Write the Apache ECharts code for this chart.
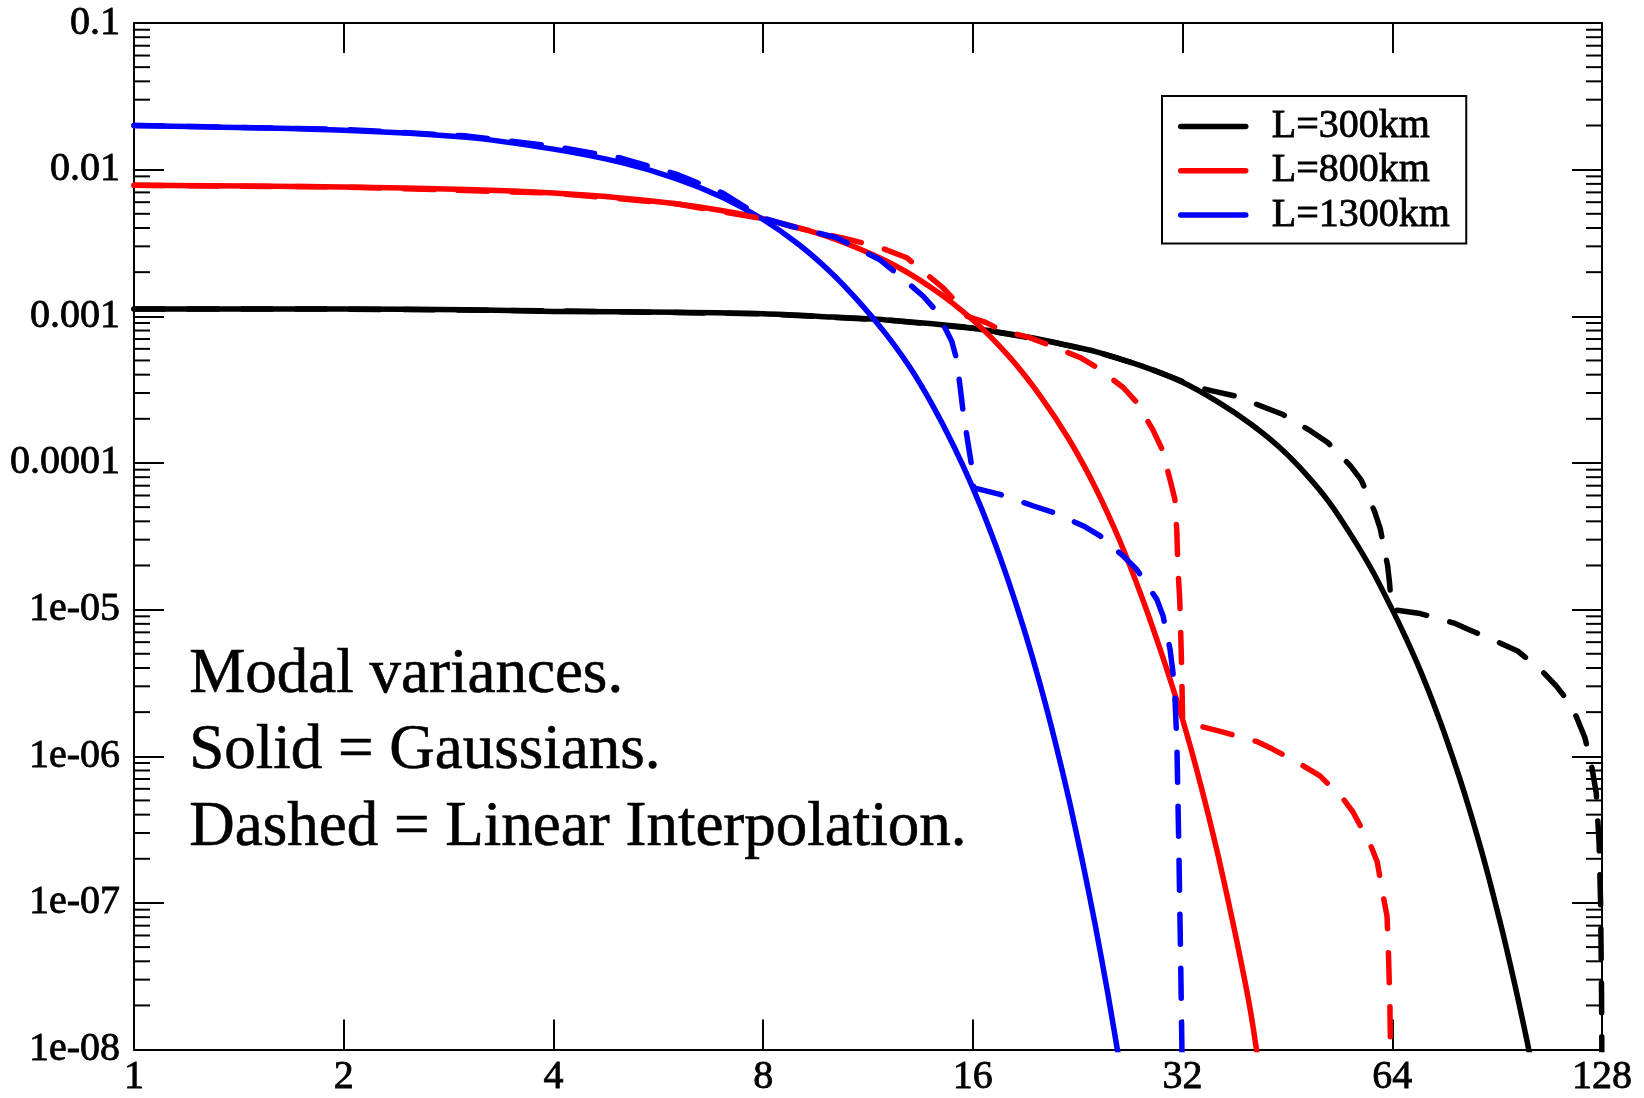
<!DOCTYPE html>
<html><head><meta charset="utf-8">
<script src="https://cdn.jsdelivr.net/npm/echarts@6/dist/echarts.min.js"></script>
<style>html,body{margin:0;padding:0;background:#fff}#c{width:1644px;height:1098px}</style>
</head><body><div id="c"></div>
<script>
// ---------- data ----------
const xTickLabels = ['1','2','4','8','16','32','64','128'];
const yTickLabels = ['1e-08','1e-07','1e-06','1e-05','0.0001','0.001','0.01','0.1'];
const legendNames = ['L=300km','L=800km','L=1300km'];
const annotationLines = ['Modal variances.','Solid = Gaussians.','Dashed = Linear Interpolation.'];

// L=300km, Gaussian (solid)
const blackSolidK = [1,2,3,4,6,8,10,12,14,16,18,20,24,28,32,36,40,44,48,52,56,60,64,66,68,70,72,74,76,78,80,82,84,86,88,90,92,94,96,98,100,102];
const blackSolidV = [1.12e-3,1.12e-3,1.11e-3,1.08e-3,1.065e-3,1.04e-3,9.9e-4,9.45e-4,8.9e-4,8.3e-4,7.6e-4,6.95e-4,5.75e-4,4.57e-4,3.55e-4,2.6e-4,1.86e-4,1.29e-4,8.5e-5,5.37e-5,3.16e-5,1.82e-5,1.0e-5,7.4e-6,5.45e-6,3.98e-6,2.86e-6,2.04e-6,1.445e-6,1.01e-6,7.05e-7,4.85e-7,3.31e-7,2.24e-7,1.5e-7,9.9e-8,6.55e-8,4.25e-8,2.75e-8,1.76e-8,1.12e-8,7.0e-9];
// L=300km, linear interpolation (dashed)
const blackDashK = [1,2,4,8,12,16,20,24,28,32,34,35.3,38,42,44.5,48.8,51.7,55.7,57.8,60.4,61.5,63.0,63.4,63.8,64.2,70.2,78.5,82.5,91.5,97,105.5,110,113.4,117.6,120.9,123.6,125.6,126.8,127.4,127.8,128];
const blackDashV = [1.12e-3,1.12e-3,1.09e-3,1.04e-3,9.45e-4,8.3e-4,6.95e-4,5.75e-4,4.6e-4,3.6e-4,3.24e-4,3.1e-4,2.87e-4,2.39e-4,2.15e-4,1.66e-4,1.38e-4,9.6e-5,7.6e-5,4.63e-5,3.57e-5,2.01e-5,1.55e-5,1.08e-5,1.0e-5,9.4e-6,8.1e-6,7.3e-6,5.9e-6,5.2e-6,3.72e-6,3.02e-6,2.51e-6,1.86e-6,1.35e-6,8.75e-7,5.6e-7,2.5e-7,1.0e-7,2.5e-8,6.3e-9];

// L=800km
const redSolidK = [1,2,3,4,5,6,7,8,10,12,14,16,18,20,22,24,26,28,30,32,34,36,38,40,41.5];
const redSolidV = [7.82e-3,7.62e-3,7.31e-3,6.92e-3,6.41e-3,5.85e-3,5.25e-3,4.63e-3,3.44e-3,2.39e-3,1.55e-3,9.44e-4,5.37e-4,2.86e-4,1.44e-4,6.76e-5,2.95e-5,1.2e-5,4.68e-6,1.78e-6,6.3e-7,2.09e-7,6.5e-8,1.9e-8,6e-9];
const redDashK = [1,2,4,6,8,8.83,10.66,11.77,12.86,13.3,14.5,15.2,15.7,16.7,17.5,19.3,20.85,22.8,24.1,26.3,27.5,29.0,29.9,30.7,31.2,31.4,31.5,31.7,31.8,31.9,32.0,34.3,36.6,40.9,43.1,47.7,50.4,54.4,56.2,59.5,60.9,62.1,62.9,63.2,63.5,63.7];
const redDashV = [7.82e-3,7.62e-3,6.92e-3,5.85e-3,4.63e-3,4.08e-3,3.33e-3,2.95e-3,2.51e-3,2.19e-3,1.56e-3,1.23e-3,1.0e-3,9.1e-4,8.1e-4,7.16e-4,6.22e-4,5.24e-4,4.48e-4,3.27e-4,2.59e-4,1.69e-4,1.24e-4,7.7e-5,5.65e-5,3.39e-5,2.0e-5,1.17e-5,7.1e-6,4.07e-6,1.82e-6,1.58e-6,1.46e-6,1.26e-6,1.12e-6,8.6e-7,7.35e-7,5.13e-7,4.17e-7,2.51e-7,1.9e-7,1.12e-7,8.1e-8,4.47e-8,2.0e-8,6.3e-9];

// L=1300km
const blueSolidK = [1,2,3,4,5,6,7,8,9,10,11,12,13,14,15,16,17,18,19,20,21,22,23,24,25,26];
const blueSolidV = [2.0e-2,1.86e-2,1.66e-2,1.38e-2,1.12e-2,8.7e-3,6.46e-3,4.57e-3,3.09e-3,2.0e-3,1.245e-3,7.59e-4,4.47e-4,2.48e-4,1.32e-4,6.76e-5,3.32e-5,1.56e-5,7.05e-6,3.05e-6,1.26e-6,5.0e-7,1.89e-7,6.9e-8,2.4e-8,8.0e-9];
const blueDashK = [1,2,3,4,5,6,7,8,8.83,10.2,11.77,12.58,13.58,14.2,14.92,15.17,15.34,15.5,15.77,15.94,16.05,17.5,19.55,20.9,23.06,24.37,26.3,27.5,29.4,30.0,30.7,31.0,31.2,31.4,31.6,31.8,32.0];
const blueDashV = [2.0e-2,1.88e-2,1.70e-2,1.445e-2,1.20e-2,9.33e-3,6.92e-3,4.68e-3,4.08e-3,3.44e-3,2.43e-3,1.875e-3,1.37e-3,1.08e-3,6.76e-4,5.07e-4,3.31e-4,2.2e-4,1.3e-4,9.5e-5,6.76e-5,6.1e-5,5.09e-5,4.59e-5,3.72e-5,3.18e-5,2.32e-5,1.88e-5,1.17e-5,9.06e-6,5.37e-6,3.72e-6,2.51e-6,1.26e-6,2.51e-7,3.98e-8,5.0e-9];

// minor tick positions on the y axis (mantissa x decade)
const minorMantissas = [2,3,4,5,6,7,8,9];
const yDecades = [1e-8,1e-7,1e-6,1e-5,1e-4,1e-3,1e-2];

// ---------- chart ----------
const FONT = 'Liberation Serif';
const LW = 5.5;
const zip = (k, v) => k.map((x, i) => [x, v[i]]);
const yMinorTicks = [];
yDecades.forEach(d => minorMantissas.forEach(m => yMinorTicks.push([1, m * d])));

const chart = echarts.init(document.getElementById('c'), null, {renderer: 'canvas'});

function lineSeries(name, k, v, color, dashed, z) {
  return {
    name: name, type: 'line', data: zip(k, v),
    xAxisIndex: 0, yAxisIndex: 0,
    symbol: 'none', showSymbol: false, smooth: dashed ? false : 0.25,
    clip: true, silent: true, z: z,
    lineStyle: {color: color, width: LW, type: dashed ? [30, 24] : 'solid', cap: 'round', join: 'round'},
    itemStyle: {color: color},
    emphasis: {disabled: true}
  };
}

const axisCommon = {
  axisLine: {show: true, onZero: false, lineStyle: {color: '#000', width: 2}},
  axisTick: {show: true, inside: true, length: 30, lineStyle: {color: '#000', width: 2}},
  splitLine: {show: false},
  minorTick: {show: false}
};
const labelFont = {fontFamily: FONT, fontSize: 40, color: '#000', textBorderColor: '#000', textBorderWidth: 0.8};

const option = {
  animation: false,
  backgroundColor: '#fff',
  grid: {left: 134, right: 42, top: 23, bottom: 47, containLabel: false},
  xAxis: [
    Object.assign({
      type: 'log', logBase: 2, min: 1, max: 128, interval: 1, position: 'bottom',
      axisLabel: Object.assign({show: true, margin: 8, showMinLabel: true, showMaxLabel: true,
        formatter: v => xTickLabels[Math.round(Math.log2(v))]}, labelFont)
    }, axisCommon),
    Object.assign({
      type: 'log', logBase: 2, min: 1, max: 128, interval: 1, position: 'top',
      axisLabel: {show: false}
    }, axisCommon)
  ],
  yAxis: [
    Object.assign({
      type: 'log', logBase: 10, min: 1e-8, max: 0.1, interval: 1, position: 'left',
      axisLabel: Object.assign({show: true, margin: 14, showMinLabel: true, showMaxLabel: true,
        formatter: v => yTickLabels[Math.round(Math.log10(v)) + 8]}, labelFont)
    }, axisCommon),
    Object.assign({
      type: 'log', logBase: 10, min: 1e-8, max: 0.1, interval: 1, position: 'right',
      axisLabel: {show: false}
    }, axisCommon)
  ],
  legend: {
    data: legendNames,
    orient: 'vertical', left: 1162, top: 96,
    backgroundColor: '#fff', borderColor: '#000', borderWidth: 2, borderRadius: 0,
    padding: [10, 16, 8, 16],
    itemWidth: 65, itemHeight: 20, itemGap: 3.5,
    selectedMode: false,
    itemStyle: {opacity: 0, borderWidth: 0},
    lineStyle: {width: LW, cap: 'round'},
    textStyle: Object.assign({padding: [0, 0, 0, 21]}, labelFont)
  },
  graphic: [{
    type: 'text', left: 189, top: 637, silent: true,
    style: {text: annotationLines.join('\n'), font: '63px "Liberation Serif"', fill: '#000',
      lineHeight: 76.5, stroke: '#000', lineWidth: 0.6}
  }],
  series: [
    {
      name: 'minorTicks', type: 'custom', xAxisIndex: 0, yAxisIndex: 0, silent: true, z: 1,
      data: yMinorTicks,
      renderItem: function (params, api) {
        const y = api.coord([1, api.value(1)])[1];
        const cs = params.coordSys;
        return {type: 'group', children: [
          {type: 'line', shape: {x1: cs.x, y1: y, x2: cs.x + 16, y2: y}, style: {stroke: '#000', lineWidth: 2}},
          {type: 'line', shape: {x1: cs.x + cs.width - 16, y1: y, x2: cs.x + cs.width, y2: y}, style: {stroke: '#000', lineWidth: 2}}
        ]};
      }
    },
    lineSeries(legendNames[0], blackSolidK, blackSolidV, '#000000', false, 2),
    lineSeries(legendNames[1], redSolidK, redSolidV, '#ff0000', false, 3),
    lineSeries(legendNames[2], blueSolidK, blueSolidV, '#0000ff', false, 4),
    lineSeries('L=300km dashed', blackDashK, blackDashV, '#000000', true, 5),
    lineSeries('L=800km dashed', redDashK, redDashV, '#ff0000', true, 6),
    lineSeries('L=1300km dashed', blueDashK, blueDashV, '#0000ff', true, 7)
  ]
};
chart.setOption(option);
</script></body></html>
